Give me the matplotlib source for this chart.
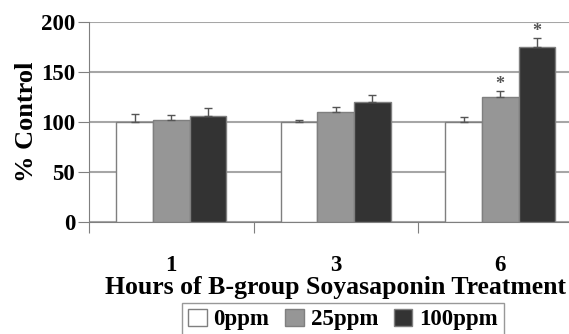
import numpy as np
import matplotlib
matplotlib.use("Agg")
from matplotlib import pyplot as plt

hours = ["1", "3", "6"]
doses = ["0ppm", "25ppm", "100ppm"]
colors = ["#ffffff", "#969696", "#333333"]

# % control per dose, one list per dose (hours 1, 3, 6)
means = {
    "0ppm": [100, 100, 100],
    "25ppm": [102, 110, 125],
    "100ppm": [106, 120, 175],
}
errs = {
    "0ppm": [8, 2, 5],
    "25ppm": [5, 5, 6],
    "100ppm": [8, 7, 9],
}
# significant bars (dose, hour index)
stars = [("25ppm", 2), ("100ppm", 2)]

plt.rcParams["font.family"] = ["Liberation Serif", "DejaVu Serif"]
plt.rcParams["font.weight"] = "bold"

fig = plt.figure(figsize=(5.69, 3.34), dpi=100)
ax = fig.add_axes([89 / 569, 112 / 334, 3 * 164.5 / 569, 200 / 334])

x = np.arange(len(hours))
w = 0.222
for i, d in enumerate(doses):
    pos = x + (i - 1) * w
    ax.bar(pos, means[d], width=w, color=colors[i], edgecolor="#7f7f7f",
           linewidth=1, zorder=3, label=d)
    ax.errorbar(pos, means[d], yerr=[np.zeros(len(hours)), errs[d]], fmt="none",
                ecolor="#555555", elinewidth=1, capsize=3, capthick=1, zorder=4)

for d, h in stars:
    i = doses.index(d)
    ax.text(x[h] + (i - 1) * w, means[d][h] + errs[d][h] - 2, "*",
            ha="center", va="bottom", fontsize=13, color="#555555")

ax.set_xlim(-0.5, 2.5)
ax.set_ylim(0, 200)
ax.set_yticks([0, 50, 100, 150, 200])
ax.yaxis.grid(True, color="#a6a6a6", linewidth=1.5, zorder=0)
ax.set_axisbelow(True)

ax.set_xticks([-0.5, 0.5, 1.5, 2.5])
ax.set_xticklabels([])
ax.set_xticks(x, minor=True)
ax.set_xticklabels(hours, minor=True)
ax.tick_params(axis="x", which="major", direction="out", length=8, color="#7f7f7f")
ax.tick_params(axis="x", which="minor", length=0, pad=24, labelsize=16.5)
ax.tick_params(axis="y", direction="out", length=8, color="#7f7f7f", labelsize=16.5, pad=2)

for s in ["top", "right"]:
    ax.spines[s].set_visible(False)
for s in ["left", "bottom"]:
    ax.spines[s].set_color("#7f7f7f")

ax.set_ylabel("% Control", fontsize=19, fontweight="bold", labelpad=2)
ax.set_xlabel("Hours of B-group Soyasaponin Treatment", fontsize=18.5,
              fontweight="bold", labelpad=0)

fig.legend(loc="upper center", bbox_to_anchor=(343 / 569, 1 - 303 / 334), ncol=3,
           frameon=True, fancybox=False, edgecolor="#7f7f7f", fontsize=16.5,
           handlelength=0.8, handleheight=0.8, handletextpad=0.3, columnspacing=0.7,
           borderpad=0.25, borderaxespad=0)

fig.savefig("out.png", dpi=100)
